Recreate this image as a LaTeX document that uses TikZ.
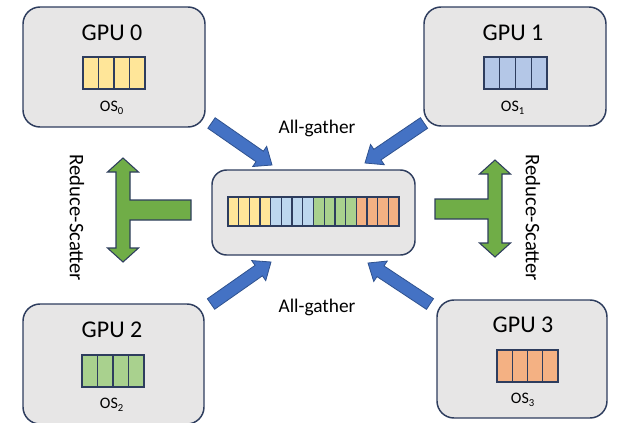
\documentclass[tikz,border=0pt]{standalone}
\usepackage{fontspec}
\setmainfont{Carlito}
\usetikzlibrary{calc}

\definecolor{boxfill}{HTML}{E7E6E6}
\definecolor{navy}{HTML}{2E3D5E}
\definecolor{agblue}{HTML}{4472C4}
\definecolor{agblueedge}{HTML}{2F528F}
\definecolor{rsgreen}{HTML}{70AD47}
\definecolor{osyellow}{HTML}{FFE699}
\definecolor{osblue}{HTML}{B4C7E7}
\definecolor{oslightblue}{HTML}{BDD7EE}
\definecolor{osgreen}{HTML}{A9D18E}
\definecolor{osorange}{HTML}{F4B183}

\tikzset{
  gpubox/.style={draw=navy, line width=1.1pt, fill=boxfill, rounded corners=12.75pt},
  gpulabel/.style={font=\fontsize{18}{21}\selectfont, inner sep=0pt},
  oslabel/.style={font=\fontsize{12}{14}\selectfont, inner sep=0pt},
  oplabel/.style={font=\fontsize{14.5}{17}\selectfont, inner sep=0pt},
  rslabel/.style={font=\fontsize{15.5}{18}\selectfont, inner sep=0pt, rotate=-90},
  cellbox/.style={draw=navy, line width=1pt},
  gatherarrow/.style={fill=agblue, draw=agblueedge, line width=0.6pt},
  scatterarrow/.style={fill=rsgreen, draw=navy, line width=0.8pt, line join=miter},
}

% a row of #5 shard cells: left x, top y, cell width, cell height, count, colour
\newcommand\shardrow[6]{%
  \foreach \k in {1,...,#5}{%
    \draw[cellbox, fill=#6] ({#1+(\k-1)*#3},#2) rectangle ({#1+\k*#3},{#2+#4});
  }%
}

% block arrow from tail coordinate #1 to tip coordinate #2
\newcommand\gatherblock[2]{%
  \coordinate (gb-h) at ($(#2)!11.25pt!(#1)$);
  \filldraw[gatherarrow]
    ($(#1)!4.8pt!90:(#2)$) -- ($(gb-h)!4.8pt!-90:(#1)$) -- ($(gb-h)!9.2pt!-90:(#1)$)
    -- (#2)
    -- ($(gb-h)!9.2pt!90:(#1)$) -- ($(gb-h)!4.8pt!90:(#1)$) -- ($(#1)!4.8pt!-90:(#2)$) -- cycle;
}

\begin{document}
\begin{tikzpicture}[x=0.75pt, y=-0.75pt]
  \useasboundingbox (0,0) rectangle (617,422);
  \clip (0,0) rectangle (617,422);

  % GPU boxes and the gathered buffer
  \node[gpubox, minimum width=136.5pt, minimum height=90pt] (gpu0) at (114,67) {};
  \node[gpubox, minimum width=136.5pt, minimum height=89.25pt] (gpu1) at (515,66.5) {};
  \node[gpubox, minimum width=135.75pt, minimum height=90pt] (gpu2) at (113.5,364) {};
  \node[gpubox, minimum width=127.5pt, minimum height=88.5pt] (gpu3) at (522,359) {};
  \node[gpubox, rounded corners=11pt, minimum width=152.25pt, minimum height=63.75pt] (buffer) at (313.5,212.5) {};

  % titles
  \node[gpulabel] (t0) at (112,33) {GPU 0};
  \node[gpulabel] (t1) at (513,33) {GPU 1};
  \node[gpulabel] (t2) at (112,330) {GPU 2};
  \node[gpulabel] (t3) at (523,325) {GPU 3};

  % optimizer-state shards
  \shardrow{83}{57}{15.5}{32}{4}{osyellow}
  \shardrow{484}{57}{15.75}{32}{4}{osblue}
  \shardrow{82}{355}{15.5}{32}{4}{osgreen}
  \shardrow{497}{350}{15.25}{32}{4}{osorange}

  \node[oslabel] (s0) at (112,108) {OS\textsubscript{0}};
  \node[oslabel] (s1) at (513,108) {OS\textsubscript{1}};
  \node[oslabel] (s2) at (112,405) {OS\textsubscript{2}};
  \node[oslabel] (s3) at (523,400) {OS\textsubscript{3}};

  % gathered buffer: all sixteen shards
  \shardrow{228}{197}{10.6875}{29}{4}{osyellow}
  \shardrow{270.75}{197}{10.6875}{29}{4}{oslightblue}
  \shardrow{313.5}{197}{10.6875}{29}{4}{osgreen}
  \shardrow{356.25}{197}{10.6875}{29}{4}{osorange}

  % all-gather arrows
  \coordinate (agtl-tail) at (211.5,123);  \coordinate (agtl-tip) at (272,165);
  \coordinate (agtr-tail) at (424,123);    \coordinate (agtr-tip) at (365,163);
  \coordinate (agbl-tail) at (211,304);    \coordinate (agbl-tip) at (271,262);
  \coordinate (agbr-tail) at (430,304);    \coordinate (agbr-tip) at (368,263);
  \gatherblock{agtl-tail}{agtl-tip}
  \gatherblock{agtr-tail}{agtr-tip}
  \gatherblock{agbl-tail}{agbl-tip}
  \gatherblock{agbr-tail}{agbr-tip}

  \node[oplabel] (agtop) at (317,128) {All-gather};
  \node[oplabel] (agbot) at (317,307) {All-gather};

  % reduce-scatter T arrows
  \filldraw[scatterarrow]
    (123,158) -- (138.5,172) -- (130,172) -- (130,200) -- (191,200) -- (191,220)
    -- (130,220) -- (130,248) -- (138.5,248) -- (123,262) -- (107.5,248)
    -- (116,248) -- (116,172) -- (107.5,172) -- cycle;
  \filldraw[scatterarrow]
    (495,160) -- (510.5,174) -- (502,174) -- (502,243) -- (510.5,243) -- (495,257)
    -- (479.5,243) -- (488,243) -- (488,219) -- (435,219) -- (435,199) -- (488,199)
    -- (488,174) -- (479.5,174) -- cycle;

  \node[rslabel] (rsleft) at (77,218) {Reduce-Scatter};
  \node[rslabel] (rsright) at (533,218) {Reduce-Scatter};
\end{tikzpicture}
\end{document}
